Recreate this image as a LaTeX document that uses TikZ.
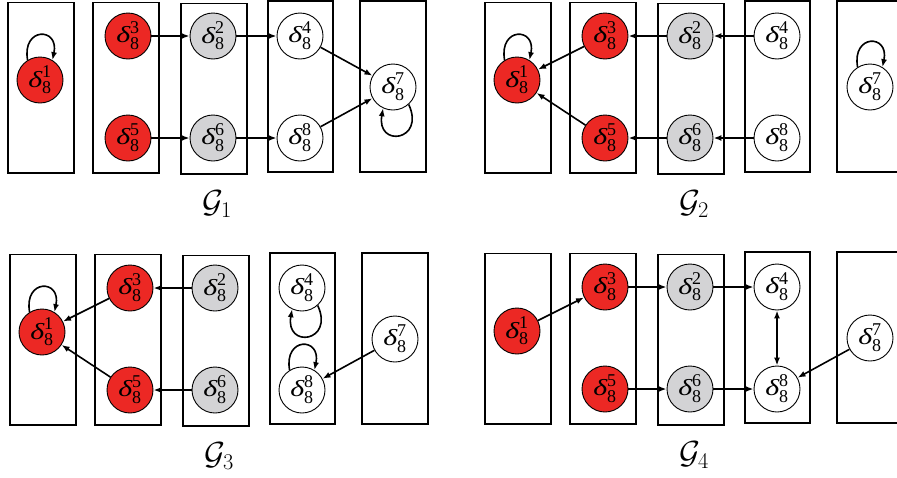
\RequirePackage{fix-cm}
\documentclass[tikz,border=0pt]{standalone}
\usepackage{amsmath}
\usepackage{fontspec}
\setmainfont{Liberation Serif}
\usetikzlibrary{arrows.meta}

% larger script digits for the state labels
\DeclareMathSizes{23}{23}{18}{14}

\definecolor{nodered}{RGB}{236,40,36}
\definecolor{nodegray}{RGB}{211,211,213}

% state label: italic delta with subscript 8 and an index
\newcommand\dlt[1]{$\text{\itshape\scalebox{1.3}[1]{δ}}^{\text{#1}}_{\text{8}}$}

\tikzset{
  x=1pt, y=-1pt,
  panel/.style={draw, line width=1.6pt},
  state/.style={circle, draw, line width=0.9pt, minimum size=46pt, inner sep=0pt,
                font=\fontsize{23}{25}\selectfont},
  redstate/.style={state, fill=nodered},
  graystate/.style={state, fill=nodegray},
  whitestate/.style={state, fill=white},
  edge/.style={-{Latex[length=8pt,width=6pt]}, line width=1.6pt},
  biedge/.style={{Latex[length=8pt,width=6pt]}-{Latex[length=8pt,width=6pt]}, line width=1.6pt},
  caption/.style={font=\fontsize{32}{34}\selectfont}
}

% five column boxes, eight states and the caption of one graph
\newcommand\graphpanel[2]{%
  \draw[panel] (8,2.5) rectangle (74,173);
  \draw[panel] (93,2.5) rectangle (159,173);
  \draw[panel] (181,3.3) rectangle (247,174);
  \draw[panel] (268,0.7) rectangle (333,171.7);
  \draw[panel] (360,0.7) rectangle (426,171.7);
  \node[redstate]   (#1n1) at (40,80)   {\dlt{1}};
  \node[redstate]   (#1n3) at (128,36)  {\dlt{3}};
  \node[redstate]   (#1n5) at (128,138) {\dlt{5}};
  \node[graystate]  (#1n2) at (213,36)  {\dlt{2}};
  \node[graystate]  (#1n6) at (213,138) {\dlt{6}};
  \node[whitestate] (#1n4) at (300,36)  {\dlt{4}};
  \node[whitestate] (#1n8) at (300,138) {\dlt{8}};
  \node[whitestate] (#1n7) at (393,87)  {\dlt{7}};
  \node[caption]    (#1cap) at (217,204) {$\mathcal{G}_{#2}$};
}

% self-loops above and below a state
\newcommand\loopup[1]{\draw[edge] (#1.122) to[out=100,in=78,looseness=3.5] (#1.58);}
\newcommand\loopdown[1]{\draw[edge] (#1.-48) to[out=-65,in=-100,looseness=4] (#1.-115);}

\begin{document}
\begin{tikzpicture}
\path[use as bounding box, clip] (0,0) rectangle (897,477);

% G1
\begin{scope}
  \graphpanel{a}{1}
  \draw[edge] (an3) -- (an2);
  \draw[edge] (an5) -- (an6);
  \draw[edge] (an2) -- (an4);
  \draw[edge] (an6) -- (an8);
  \draw[edge] (an4) -- (an7);
  \draw[edge] (an8) -- (an7);
  \loopup{an1}
  \loopdown{an7}
\end{scope}

% G2
\begin{scope}[shift={(477,0)}]
  \graphpanel{b}{2}
  \draw[edge] (bn2) -- (bn3);
  \draw[edge] (bn6) -- (bn5);
  \draw[edge] (bn4) -- (bn2);
  \draw[edge] (bn8) -- (bn6);
  \draw[edge] (bn3) -- (bn1);
  \draw[edge] (bn5) -- (bn1);
  \loopup{bn1}
  \loopup{bn7}
\end{scope}

% G3
\begin{scope}[shift={(2,252)}]
  \graphpanel{c}{3}
  \draw[edge] (cn2) -- (cn3);
  \draw[edge] (cn6) -- (cn5);
  \draw[edge] (cn3) -- (cn1);
  \draw[edge] (cn5) -- (cn1);
  \draw[edge] (cn7) -- (cn8);
  \loopup{cn1}
  \loopdown{cn4}
  \loopup{cn8}
\end{scope}

% G4
\begin{scope}[shift={(477,251)}]
  \graphpanel{d}{4}
  \draw[edge] (dn1) -- (dn3);
  \draw[edge] (dn3) -- (dn2);
  \draw[edge] (dn5) -- (dn6);
  \draw[edge] (dn2) -- (dn4);
  \draw[edge] (dn6) -- (dn8);
  \draw[biedge] (dn4) -- (dn8);
  \draw[edge] (dn7) -- (dn8);
\end{scope}
\end{tikzpicture}
\end{document}
